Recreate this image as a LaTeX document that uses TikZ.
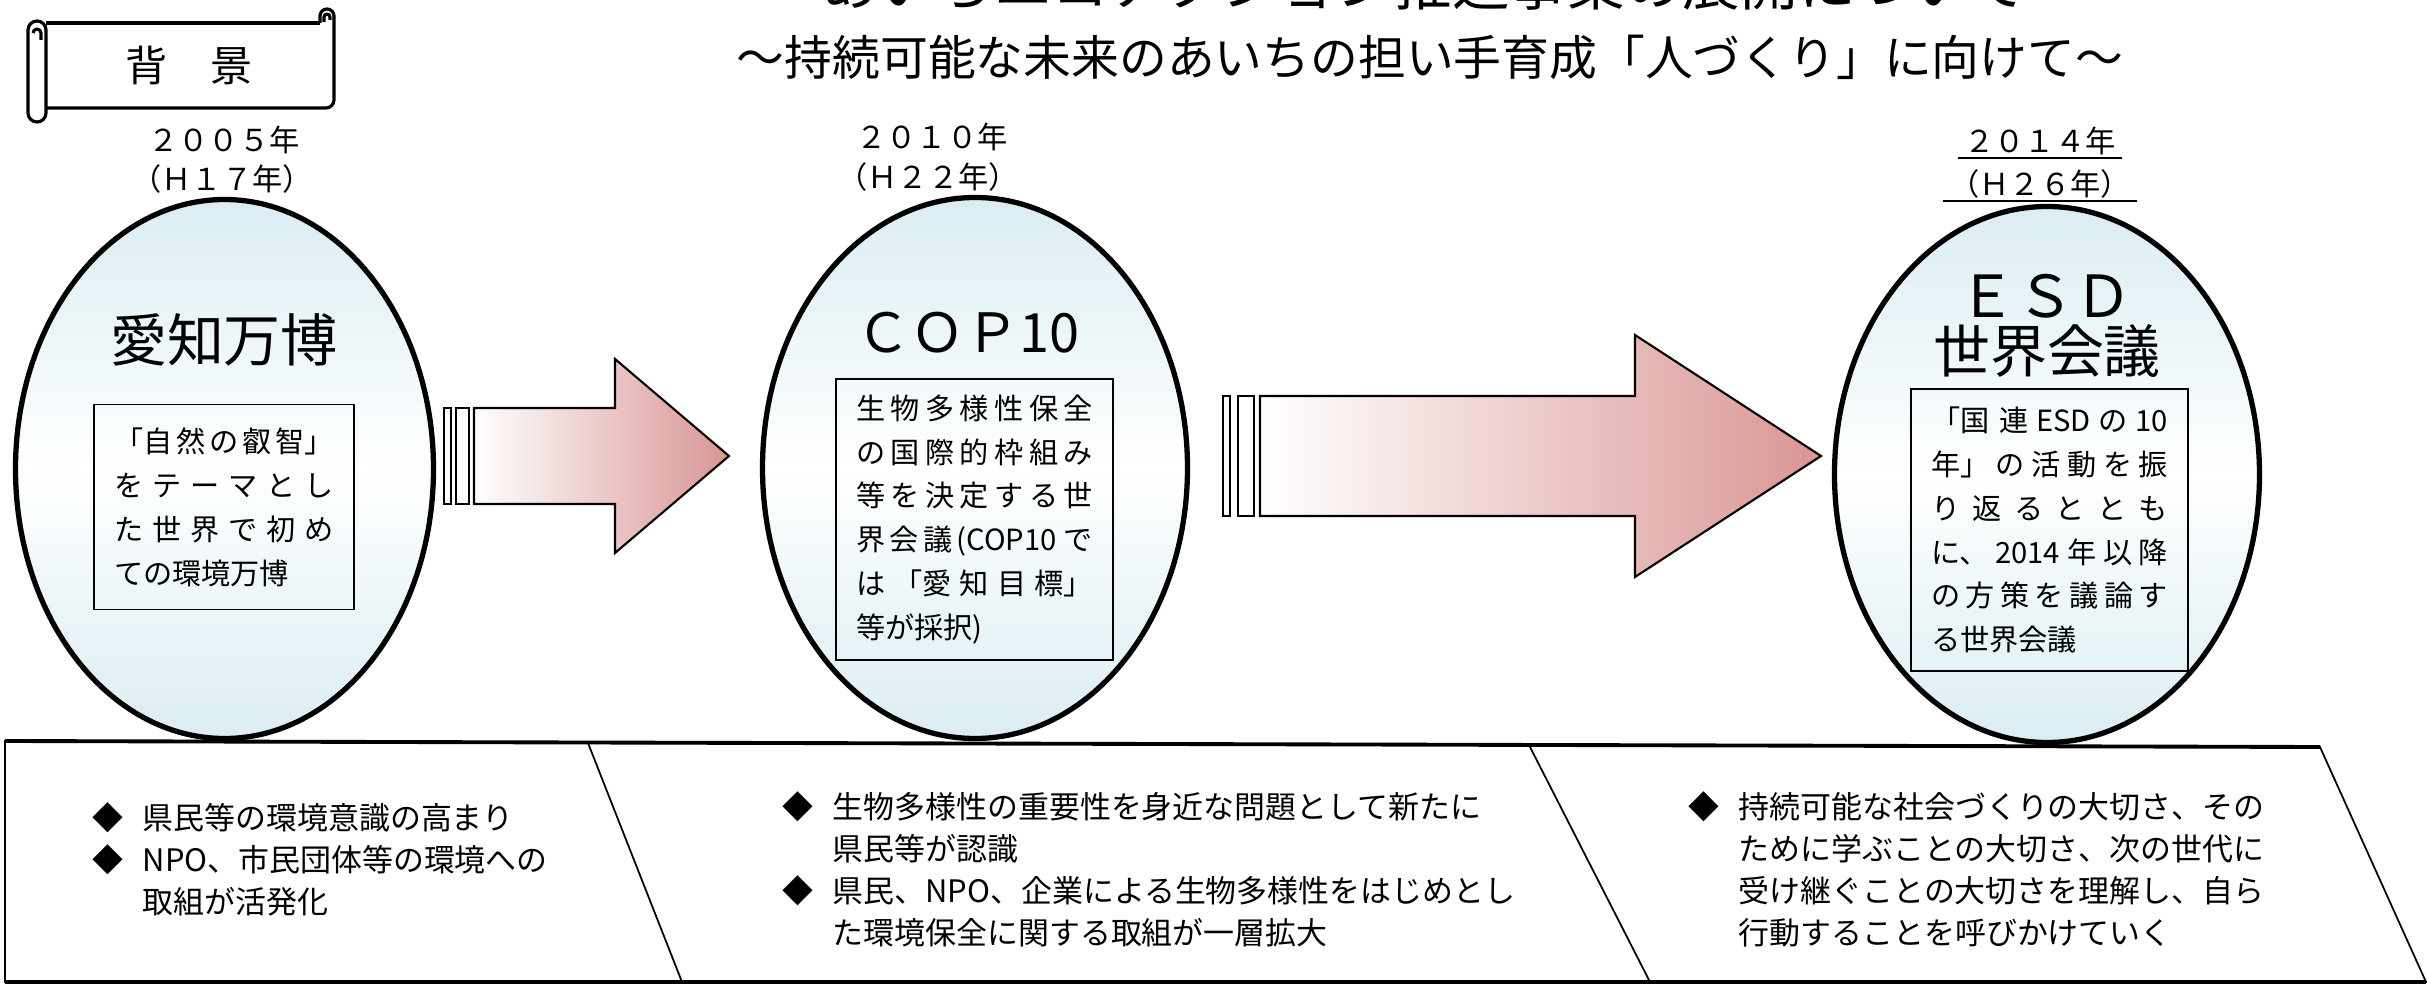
\documentclass[tikz,border=0pt]{standalone}
\usepackage{fontspec}
\setmainfont{Noto Sans CJK JP}
\usetikzlibrary{shapes.geometric}
\definecolor{skytint}{RGB}{218,237,243}
\definecolor{rosetint}{RGB}{217,150,148}
\XeTeXlinebreaklocale "ja"
\XeTeXlinebreakskip=0pt plus 8pt
\newcommand{\fsz}[2]{\fontsize{#1}{#2}\selectfont}
\newcommand{\bul}{\makebox[5mm][l]{◆}}

\begin{document}
\begin{tikzpicture}[
        x=0.1mm, y=-0.1mm,
        event/.style={ellipse, draw, line width=1.5pt, top color=skytint,
            bottom color=skytint, middle color=white, inner sep=0pt},
        eventtitle/.style={inner sep=0pt, font=\fsz{16.2}{19}},
        yearlabel/.style={inner sep=0pt, font=\fsz{8.6}{10}},
        memo/.style={draw, line width=0.4pt, align=justify, inner xsep=2mm,
            inner ysep=0pt, font=\fsz{8.3}{12.5}},
        note/.style={anchor=north west, align=left, inner sep=0pt,
            font=\fsz{8.8}{11.9}},
        panel/.style={line width=0.5pt},
        flow/.style={draw, line width=0.6pt, left color=white, right color=rosetint},
        gapbar/.style={draw, line width=0.6pt, fill=white},
        scroll/.style={line width=0.9pt, line join=round},
    ]
        \useasboundingbox (0,0) rectangle (2427,984);

        \node[font=\fsz{16.4}{18}, anchor=base, inner sep=0pt] (maintitle) at (1424,6)
            {あいちエコアクション推進事業の展開について};
        \node[font=\fsz{13.6}{16}, inner sep=0pt] (subtitle) at (1430,57)
            {～持続可能な未来のあいちの担い手育成「人づくり」に向けて～};

        \draw[scroll] (28,30) arc (180:360:9) -- (46,113) arc (0:180:9) -- cycle;
        \draw[scroll] (33,33) arc (180:360:4) -- (41,40);
        \draw[scroll] (46,23) -- (320,23);
        \draw[scroll] (320,23) -- (320,16) arc (180:360:7) -- (334,100)
                      arc (0:90:8) -- (46,108);
        \draw[scroll] (324,22) -- (324,17) arc (180:360:3) -- (330,20);
        \node[font=\fsz{12}{14}, inner sep=0pt] (scrolltitle) at (189,65) {背　景};

        \node[event, minimum width=41.8mm, minimum height=53.9mm] (expo) at (224.5,469) {};
        \node[event, minimum width=42.5mm, minimum height=54.1mm] (cop) at (975,468) {};
        \node[event, minimum width=42.5mm, minimum height=53.6mm] (esd) at (2047,474.5) {};

        \node[yearlabel] (expoyear) at (224,140) {２００５年};
        \node[yearlabel] (expoera) at (222,179) {（Ｈ１７年）};
        \node[yearlabel] (copyear) at (932,137) {２０１０年};
        \node[yearlabel] (copera) at (928,177) {（Ｈ２２年）};
        \node[yearlabel, inner xsep=0.6mm, inner ysep=0.2mm] (esdyear) at (2040,141) {２０１４年};
        \node[yearlabel, inner xsep=0.6mm, inner ysep=0.2mm] (esdera) at (2040,184) {（Ｈ２６年）};
        \draw[line width=0.6pt] (esdyear.south west) -- (esdyear.south east);
        \draw[line width=0.6pt] (esdera.south west) -- (esdera.south east);

        \node[eventtitle] (expotitle) at (224,340) {愛知万博};
        \node[eventtitle, font=\fsz{15.4}{18}] (coptitle) at (968,333) {ＣＯＰ10};
        \node[eventtitle, font=\fsz{16.5}{19}] (esdtitle) at (2045,296) {ＥＳＤ};
        \node[eventtitle] (esdsub) at (2047,351) {世界会議};

        \node[memo, text width=22mm, minimum height=20.5mm] (expomemo) at (224,507)
            {「自然の叡智」\linebreak をテーマとし\linebreak た世界で初め\linebreak ての環境万博};
        \node[memo, text width=23.7mm, minimum height=28.1mm] (copmemo) at (974.5,519.5)
            {生物多様性保全\linebreak の国際的枠組み\linebreak 等を決定する世\linebreak 界会議(COP10 で\linebreak は「愛知目標」\linebreak 等が採択)};
        \node[memo, text width=23.7mm, minimum height=28.2mm] (esdmemo) at (2049.5,530)
            {「国連 ESD の 10\linebreak 年」の活動を振\linebreak り返るととも\linebreak に、2014 年以降\linebreak の方策を議論す\linebreak る世界会議};

        \path[flow] (474,408) -- (615,408) -- (615,359) -- (729,456) -- (615,553)
                    -- (615,504) -- (474,504) -- cycle;
        \path[gapbar] (444,408) rectangle (451,504) (456,408) rectangle (469,504);
        \path[flow] (1260,396) -- (1635,396) -- (1635,335) -- (1821,456) -- (1635,577)
                    -- (1635,516) -- (1260,516) -- cycle;
        \path[gapbar] (1223,396) rectangle (1230,516) (1238,396) rectangle (1254,516);

        \draw[panel] (5,741) -- (588,743) -- (682,982) -- (5,982) -- cycle;
        \draw[panel] (588,743) -- (1529,745) -- (1650,982) -- (682,982);
        \draw[panel] (1529,745) -- (2320,747) -- (2426,982) -- (1650,982);
        \draw[line width=1.1pt] (5,741) -- (2320,747);
        \draw[line width=0.9pt] (5,982) -- (2426,982);

        \node[note] (exponote) at (92,802)
            {\bul 県民等の環境意識の高まり\\\bul NPO、市民団体等の環境への\\\hspace*{5mm}取組が活発化};
        \node[note] (copnote) at (782,791)
            {\bul 生物多様性の重要性を身近な問題として新たに\\\hspace*{5mm}県民等が認識\\\bul 県民、NPO、企業による生物多様性をはじめとし\\\hspace*{5mm}た環境保全に関する取組が一層拡大};
        \node[note] (esdnote) at (1688,791)
            {\bul 持続可能な社会づくりの大切さ、その\\\hspace*{5mm}ために学ぶことの大切さ、次の世代に\\\hspace*{5mm}受け継ぐことの大切さを理解し、自ら\\\hspace*{5mm}行動することを呼びかけていく};
    \end{tikzpicture}
\end{document}
